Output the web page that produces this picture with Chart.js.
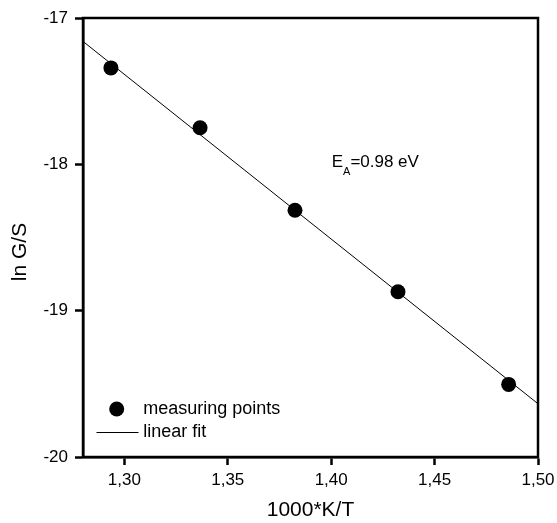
<!DOCTYPE html>
<html>
<head>
<meta charset="utf-8">
<script src="https://cdn.jsdelivr.net/npm/chart.js@4/dist/chart.umd.min.js"></script>
<style>
html,body{margin:0;padding:0;background:#fff;}
#wrap{width:557px;height:523px;position:relative;}
</style>
</head>
<body>
<div id="wrap"><canvas id="c" width="557" height="523"></canvas></div>
<script>
// Data
const measX = [1.2935, 1.3366, 1.3825, 1.4323, 1.4858];
const measY = [-17.341, -17.750, -18.314, -18.871, -19.504];
const fitX = [1.28, 1.50];
const fitY = [-17.160, -19.636];
const xTicks = [1.30, 1.35, 1.40, 1.45, 1.50];
const yTicks = [-20, -19, -18, -17];
const xTitle = '1000*K/T';
const yTitle = 'ln G/S';
const legendLabels = ['measuring points', 'linear fit'];
const annotMain = 'E';
const annotSub = 'A';
const annotRest = '=0.98 eV';

const FONT = '"Liberation Sans", Arial, Helvetica, sans-serif';

const extras = {
  id: 'extras',
  afterDraw(chart) {
    const ctx = chart.ctx;
    const a = chart.chartArea;
    ctx.save();
    // frame
    ctx.strokeStyle = '#000';
    ctx.lineWidth = 2.5;
    ctx.strokeRect(a.left, a.top, a.right - a.left, a.bottom - a.top);
    // y title
    ctx.fillStyle = '#000';
    ctx.font = '21px ' + FONT;
    ctx.save();
    ctx.translate(20.5, 252);
    ctx.rotate(-Math.PI / 2);
    ctx.textAlign = 'center';
    ctx.textBaseline = 'middle';
    ctx.fillText(yTitle, 0, 0);
    ctx.restore();
    // legend
    ctx.beginPath();
    ctx.arc(116.7, 409, 7.5, 0, Math.PI * 2);
    ctx.fill();
    ctx.beginPath();
    ctx.lineWidth = 1;
    ctx.moveTo(96.5, 432.5);
    ctx.lineTo(138.5, 432.5);
    ctx.stroke();
    ctx.font = '18px ' + FONT;
    ctx.textAlign = 'left';
    ctx.textBaseline = 'middle';
    ctx.fillText(legendLabels[0], 143.3, 409);
    ctx.fillText(legendLabels[1], 143.3, 432);
    // annotation
    ctx.textBaseline = 'alphabetic';
    ctx.font = '17px ' + FONT;
    let x = 331.7;
    ctx.fillText(annotMain, x, 167);
    x += ctx.measureText(annotMain).width;
    ctx.font = '11px ' + FONT;
    ctx.fillText(annotSub, x, 175);
    x += ctx.measureText(annotSub).width;
    ctx.font = '17px ' + FONT;
    ctx.fillText(annotRest, x, 167);
    ctx.restore();
  }
};

new Chart(document.getElementById('c'), {
  type: 'scatter',
  data: {
    datasets: [
      {
        label: legendLabels[0],
        data: measX.map((v, i) => ({x: v, y: measY[i]})),
        pointRadius: 7.5,
        pointHoverRadius: 7.5,
        pointBackgroundColor: '#000',
        pointBorderColor: '#000',
        pointBorderWidth: 0,
        showLine: false
      },
      {
        label: legendLabels[1],
        data: fitX.map((v, i) => ({x: v, y: fitY[i]})),
        showLine: true,
        borderColor: '#000',
        borderWidth: 1,
        pointRadius: 0,
        pointHoverRadius: 0
      }
    ]
  },
  options: {
    responsive: false,
    animation: false,
    devicePixelRatio: 1,
    layout: { padding: { top: 18, right: 19, left: 0, bottom: 0 } },
    plugins: { legend: { display: false }, tooltip: { enabled: false } },
    scales: {
      x: {
        type: 'linear',
        min: 1.28,
        max: 1.50,
        afterBuildTicks: s => { s.ticks = xTicks.map(v => ({value: v})); },
        afterFit: s => { s.height = 66; s.paddingLeft = 0; s.paddingRight = 0; },
        border: { display: true, color: '#000', width: 2.5 },
        grid: { display: true, drawOnChartArea: false, drawTicks: true, tickLength: 8, tickWidth: 2.5, tickColor: '#000' },
        ticks: {
          color: '#000',
          padding: 5,
          maxRotation: 0,
          autoSkip: false,
          font: { family: FONT, size: 17 },
          callback: v => Number(v).toFixed(2).replace('.', ',')
        },
        title: { display: true, text: xTitle, color: '#000', font: { family: FONT, size: 21 }, padding: { top: 0, bottom: 0 } }
      },
      y: {
        type: 'linear',
        min: -20,
        max: -17,
        afterBuildTicks: s => { s.ticks = yTicks.map(v => ({value: v})); },
        afterFit: s => { s.width = 83; s.paddingTop = 0; s.paddingBottom = 0; },
        border: { display: true, color: '#000', width: 2.5 },
        grid: { display: true, drawOnChartArea: false, drawTicks: true, tickLength: 8, tickWidth: 2.5, tickColor: '#000' },
        ticks: {
          color: '#000',
          padding: 7,
          autoSkip: false,
          font: { family: FONT, size: 17 },
          callback: v => String(v)
        }
      }
    }
  },
  plugins: [extras]
});
</script>
</body>
</html>
